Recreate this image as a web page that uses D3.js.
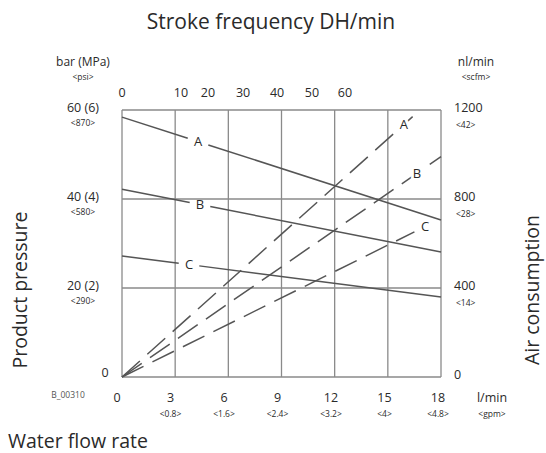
<!DOCTYPE html>
<html><head><meta charset="utf-8">
<script src="https://cdn.jsdelivr.net/npm/d3@7"></script>
<style>
body{margin:0;background:#fff;}
text{font-family:"Open Sans","Noto Sans",sans-serif;fill:#2a2a2a;}
</style></head>
<body><svg id="c" width="546" height="453"></svg>
<script>
// ---- data ----
const flowTicks = [0, 3, 6, 9, 12, 15, 18];
const gpmLabels = ["", "<0.8>", "<1.6>", "<2.4>", "<3.2>", "<4>", "<4.8>"];
const strokeTickFlow = [0, 3.33, 4.85, 6.83, 8.75, 10.72, 12.58];
const strokeLabels = ["0", "10", "20", "30", "40", "50", "60"];
const pressureTicks = [0, 20, 40, 60];
const pressureLabels = ["0", "20 (2)", "40 (4)", "60 (6)"];
const psiLabels = ["", "<290>", "<580>", "<870>"];
const airTicks = [0, 400, 800, 1200];
const airLabels = ["0", "400", "800", "1200"];
const scfmLabels = ["", "<14>", "<28>", "<42>"];
const seriesNames = ["A", "B", "C"];
const pressureFlow = [0, 18];
const pressureA = [58.4, 35.3];
const pressureB = [42.2, 28.1];
const pressureC = [27.2, 18.0];
const pressureLabelFlow = [4.29, 4.40, 3.78];
const airA = [[0, 0], [16.4, 1170]];
const airB = [[0, 0], [18, 990]];
const airC = [[0, 0], [16.5, 652]];
const airLabelFlow = [15.9, 16.65, 17.1];

// ---- drawing ----
const svg = d3.select("#c");
const L = 122, R = 441, T = 110, B = 377;
const x = d3.scaleLinear().domain([0, 18]).range([L, R]);
const yP = d3.scaleLinear().domain([0, 60]).range([B, T]);
const yA = d3.scaleLinear().domain([0, 1200]).range([B, T]);

const gridC = "#8a8a8a", lineC = "#555";

// grid
svg.append("g").selectAll("line").data(flowTicks).join("line")
  .attr("x1", d => x(d)).attr("x2", d => x(d)).attr("y1", T).attr("y2", B)
  .attr("stroke", gridC).attr("stroke-width", 1.3);
svg.append("g").selectAll("line").data(pressureTicks).join("line")
  .attr("x1", L).attr("x2", R).attr("y1", d => yP(d)).attr("y2", d => yP(d))
  .attr("stroke", gridC).attr("stroke-width", 1.3);

// title
svg.append("text").attr("x", 271).attr("y", 29).attr("text-anchor", "middle")
  .style("font-size", "21px").text("Stroke frequency DH/min");

// top axis
svg.append("g").selectAll("text").data(strokeTickFlow).join("text")
  .attr("x", d => x(d)).attr("y", 97).attr("text-anchor", "middle")
  .style("font-size", "12.5px").text((d, i) => strokeLabels[i]);

// left unit
svg.append("text").attr("x", 83).attr("y", 66).attr("text-anchor", "middle").style("font-size", "12px").text("bar (MPa)");
svg.append("text").attr("x", 83).attr("y", 80).attr("text-anchor", "middle").style("font-size", "8.5px").text("<psi>");
// right unit
svg.append("text").attr("x", 476).attr("y", 66).attr("text-anchor", "middle").style("font-size", "12px").text("nl/min");
svg.append("text").attr("x", 476).attr("y", 80).attr("text-anchor", "middle").style("font-size", "8.5px").text("<scfm>");

// left ticks
const lg = svg.append("g");
lg.selectAll("text.m").data(pressureTicks).join("text").attr("class", "m")
  .attr("x", (d, i) => i === 0 ? 105 : 83).attr("y", (d, i) => i === 0 ? yP(d) - 0 : yP(d) + 2)
  .attr("text-anchor", "middle").style("font-size", "12.5px").text((d, i) => pressureLabels[i]);
lg.selectAll("text.s").data(pressureTicks).join("text").attr("class", "s")
  .attr("x", 83).attr("y", d => yP(d) + 16)
  .attr("text-anchor", "middle").style("font-size", "8.5px").text((d, i) => psiLabels[i]);
// right ticks
const rg = svg.append("g");
rg.selectAll("text.m").data(airTicks).join("text").attr("class", "m")
  .attr("x", 454).attr("y", d => yA(d) + 2)
  .style("font-size", "12.5px").text((d, i) => airLabels[i]);
rg.selectAll("text.s").data(airTicks).join("text").attr("class", "s")
  .attr("x", 456).attr("y", d => yA(d) + 18)
  .style("font-size", "8.5px").text((d, i) => scfmLabels[i]);

// bottom ticks
const bg = svg.append("g");
bg.selectAll("text.m").data(flowTicks).join("text").attr("class", "m")
  .attr("x", d => x(d) - 5 + d / 9).attr("y", 402).attr("text-anchor", "middle")
  .style("font-size", "12.5px").text(d => d);
bg.selectAll("text.s").data(flowTicks).join("text").attr("class", "s")
  .attr("x", d => x(d) - 5 + d / 9).attr("y", 417).attr("text-anchor", "middle")
  .style("font-size", "8.5px").text((d, i) => gpmLabels[i]);
svg.append("text").attr("x", 492).attr("y", 402).attr("text-anchor", "middle").style("font-size", "12.5px").text("l/min");
svg.append("text").attr("x", 492).attr("y", 417).attr("text-anchor", "middle").style("font-size", "8.5px").text("<gpm>");
svg.append("text").attr("x", 68).attr("y", 398).attr("text-anchor", "middle").style("font-size", "8.5px").style("fill", "#555").text("B_00310");

// axis titles
svg.append("text").attr("transform", "translate(27,290) rotate(-90)").attr("text-anchor", "middle")
  .style("font-size", "19.5px").text("Product pressure");
svg.append("text").attr("transform", "translate(539,290) rotate(-90)").attr("text-anchor", "middle")
  .style("font-size", "19.5px").text("Air consumption");
svg.append("text").attr("x", 8).attr("y", 448).style("font-size", "19.5px").text("Water flow rate");

// pressure lines with label gaps
const pSeries = [pressureA, pressureB, pressureC];
const gapHalf = 0.58;
pSeries.forEach((vals, i) => {
  const f = d3.scaleLinear().domain(pressureFlow).range(vals);
  const lf = pressureLabelFlow[i];
  const segs = [[pressureFlow[0], lf - gapHalf], [lf + gapHalf, pressureFlow[1]]];
  segs.forEach(s => {
    svg.append("line").attr("x1", x(s[0])).attr("y1", yP(f(s[0])))
      .attr("x2", x(s[1])).attr("y2", yP(f(s[1])))
      .attr("stroke", lineC).attr("stroke-width", 1.5);
  });
  svg.append("text").attr("x", x(lf)).attr("y", yP(f(lf)) + 4.5).attr("text-anchor", "middle")
    .style("font-size", "13px").text(seriesNames[i]);
});

// air consumption dashed lines
const aSeries = [airA, airB, airC];
const line = d3.line().x(d => x(d[0])).y(d => yA(d[1]));
aSeries.forEach((pts, i) => {
  svg.append("path").attr("d", line(pts)).attr("fill", "none")
    .attr("stroke", lineC).attr("stroke-width", 1.5).attr("stroke-dasharray", "24,10");
  const f = d3.scaleLinear().domain([pts[0][0], pts[1][0]]).range([pts[0][1], pts[1][1]]);
  const lf = airLabelFlow[i];
  svg.append("text").attr("x", x(lf)).attr("y", yA(f(lf)) + 4.5).attr("text-anchor", "middle")
    .style("font-size", "13px").style("stroke", "#fff").style("stroke-width", "6px")
    .style("paint-order", "stroke").text(seriesNames[i]);
});
</script></body></html>
